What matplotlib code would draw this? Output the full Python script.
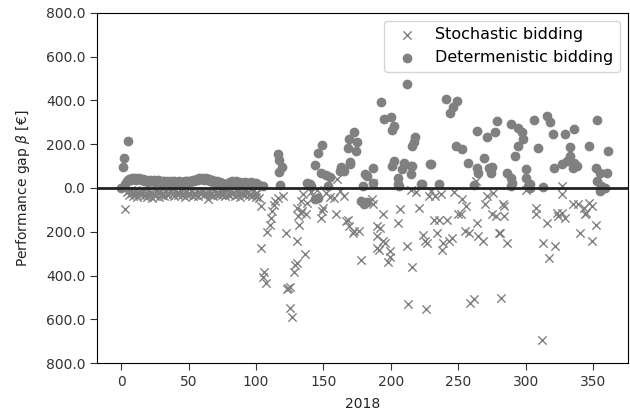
import numpy as np
import matplotlib
matplotlib.use("Agg")
import matplotlib.pyplot as plt
from matplotlib.ticker import FuncFormatter

# ------------------ DATA ----------------------------------------------------

# dense band, day 3 .. 102 (one point per day)
band_days = list(range(3, 103))
det_band = [20, 30, 38, 42, 35, 44, 40, 46, 38, 42,
            45, 40, 36, 42, 30, 38, 34, 28, 36, 32,
            30, 35, 26, 33, 38, 30, 28, 34, 25, 31,
            29, 33, 27, 22, 30, 26, 32, 24, 28, 22,
            30, 26, 20, 28, 32, 25, 30, 34, 28, 33,
            36, 30, 38, 42, 35, 45, 40, 46, 38, 42,
            44, 36, 40, 30, 35, 28, 32, 24, 30, 22,
            26, 18, 22, 12, 5, 15, 25, 20, 28, 30,
            22, 26, 30, 18, 24, 28, 20, 25, 22, 27,
            18, 24, 20, 26, 15, 22, 18, 24, 20, 15]
stoch_band = [-95, -20, -12, -30, -8, -25, -35, -15, -28, -40,
              -18, -32, -22, -10, -38, -26, -42, -15, -30, -20,
              -44, -28, -35, -12, -24, -40, -18, -30, -22, -36,
              -14, -26, -32, -20, -10, -28, -38, -16, -24, -34,
              -22, -12, -30, -26, -40, -18, -34, -22, -28, -14,
              -36, -24, -30, -16, -38, -20, -28, -12, -32, -26,
              -22, -52, -18, -30, -24, -36, -14, -28, -20, -34,
              -26, -16, -30, -22, -38, -12, -26, -34, -18, -28,
              -24, -36, -14, -30, -20, -40, -22, -28, -16, -32,
              -24, -18, -30, -26, -38, -14, -28, -42, -22, -45]

# deterministic bidding, scattered points
det_days = [0, 1, 2, 5, 105, 116, 117, 117, 119, 118,
            138, 141, 144, 146, 149, 148, 152, 155, 153, 162,
            163, 165, 168, 169, 170, 173, 174, 175, 179, 182,
            140, 144, 146, 178, 180, 182, 187, 193, 195, 200,
            202, 201, 212, 218, 217, 216, 241, 249, 246, 244,
            248, 253, 264, 271, 277, 279, 257, 269, 273, 265,
            274, 230, 236, 223, 210, 215, 208, 215, 201, 205,
            205, 206, 222, 181, 187, 202, 216, 229, 275, 262,
            289, 294, 297, 298, 294, 292, 306, 316, 318, 320,
            309, 329, 336, 353, 347, 361, 333, 333, 331, 336,
            327, 321, 338, 335, 286, 289, 290, 300, 300, 303,
            313, 303, 352, 355, 360, 353, 356, 359, 355, 358,
            289, 302, 170, 264]
det_vals = [0, 97, 138, 213, 10, 155, 130, 74, 97, 12,
            24, 9, 104, 162, 198, 70, 60, 50, 9, 78,
            97, 78, 182, 224, 117, 254, 170, 208, 9, 55,
            18, -52, -45, -60, -72, -65, 24, 392, 316, 323,
            285, 265, 474, 231, 208, 193, 408, 397, 372, 342,
            190, 180, 262, 231, 254, 308, 116, 139, 93, 70,
            70, 109, 20, 20, 116, 101, 86, 63, 101, 47,
            17, 9, 17, 63, 93, 124, 101, 109, 97, 12,
            293, 274, 254, 224, 193, 147, 311, 331, 300, 247,
            182, 247, 270, 311, 193, 167, 185, 147, 124, 116,
            109, 93, 101, 93, 70, 47, 24, 86, 47, 17,
            6, 1, 93, 70, 70, 32, 9, 1, -14, 2,
            9, 9, 109, 93]

# stochastic bidding, scattered points
stoch_days = [104, 104, 105, 106, 107, 108, 110, 111, 112, 113,
              114, 116, 120, 122, 123, 124, 125, 125, 127, 128,
              129, 130, 130, 136, 130, 131, 132, 133, 134, 137,
              138, 135, 133, 149, 148, 150, 158, 159, 160, 168,
              169, 173, 176, 178, 167, 172, 141, 143, 145, 152,
              155, 162, 165, 186, 187, 187, 190, 190, 190, 192,
              194, 194, 191, 196, 199, 198, 199, 205, 207, 212,
              216, 213, 221, 226, 224, 225, 227, 232, 234, 236,
              238, 239, 242, 243, 245, 252, 253, 255, 256, 258,
              259, 262, 263, 264, 265, 268, 270, 271, 275, 278,
              280, 282, 284, 284, 286, 283, 276, 281, 228, 237,
              250, 215, 219, 230, 233, 247, 308, 308, 312, 313,
              316, 317, 322, 323, 324, 327, 329, 327, 327, 335,
              339, 343, 347, 349, 344, 340, 352, 349, 345, 300]
stoch_vals = [-274, -83, -405, -382, -435, -201, -167, -136, -106, -78,
              -60, -45, -37, -205, -461, -455, -450, -547, -588, -382,
              -351, -343, -244, -302, -90, -129, -167, -113, -106, -121,
              -67, -29, -60, -106, -136, -90, -45, -121, 40, -144,
              -175, -198, -198, -331, -152, -205, -20, -40, -10, -25,
              -40, -15, -35, -52, -75, 24, -274, -221, -175, -182,
              -121, -244, -282, -251, -290, -336, -313, -159, -98, -267,
              -363, -532, -90, -553, -213, -244, -251, -144, -205, -144,
              -282, -251, -144, -244, -228, -121, -52, -198, -83, -205,
              -527, -507, 32, -159, -221, -244, -75, -37, -121, -129,
              -205, -501, -83, -129, -251, -75, -21, -205, -37, -29,
              -121, -10, -20, -15, -35, -20, -90, -121, -696, -251,
              -159, -320, -267, -113, -129, -113, -136, 9, -26, -75,
              -75, -90, -67, -83, -121, -205, -167, -244, -113, -10]

y_ticks = [-800, -600, -400, -200, 0, 200, 400, 600, 800]
x_ticks = [0, 50, 100, 150, 200, 250, 300, 350]

# ------------------ FIGURE --------------------------------------------------

fig, ax = plt.subplots(figsize=(6.3, 4.15), dpi=100)
fig.subplots_adjust(left=0.154, right=0.997, top=0.969, bottom=0.125)

gris = '#808080'

ax.scatter(band_days + stoch_days, stoch_band + stoch_vals, marker='x',
           color=gris, s=36, linewidths=1.0, label='Stochastic bidding')
ax.scatter(band_days + det_days, det_band + det_vals, marker='o',
           color=gris, s=36, label='Determenistic bidding')
ax.axhline(0, color='#222222', lw=2)

ax.set_ylim(-800, 800)
ax.set_xlim(-18, 376)
ax.set_yticks(y_ticks)
ax.set_xticks(x_ticks)
ax.yaxis.set_major_formatter(FuncFormatter(lambda v, p: '%.1f' % abs(v)))
ax.tick_params(length=5, color='#333333', labelcolor='#333333')
ax.set_xlabel('2018', labelpad=6, color='#222222')
ax.set_ylabel(r'Performance gap $\beta$ [€]', labelpad=10, color='#222222')
ax.legend(loc='upper right', fontsize=11.5)

plt.savefig('out.png', dpi=100)
